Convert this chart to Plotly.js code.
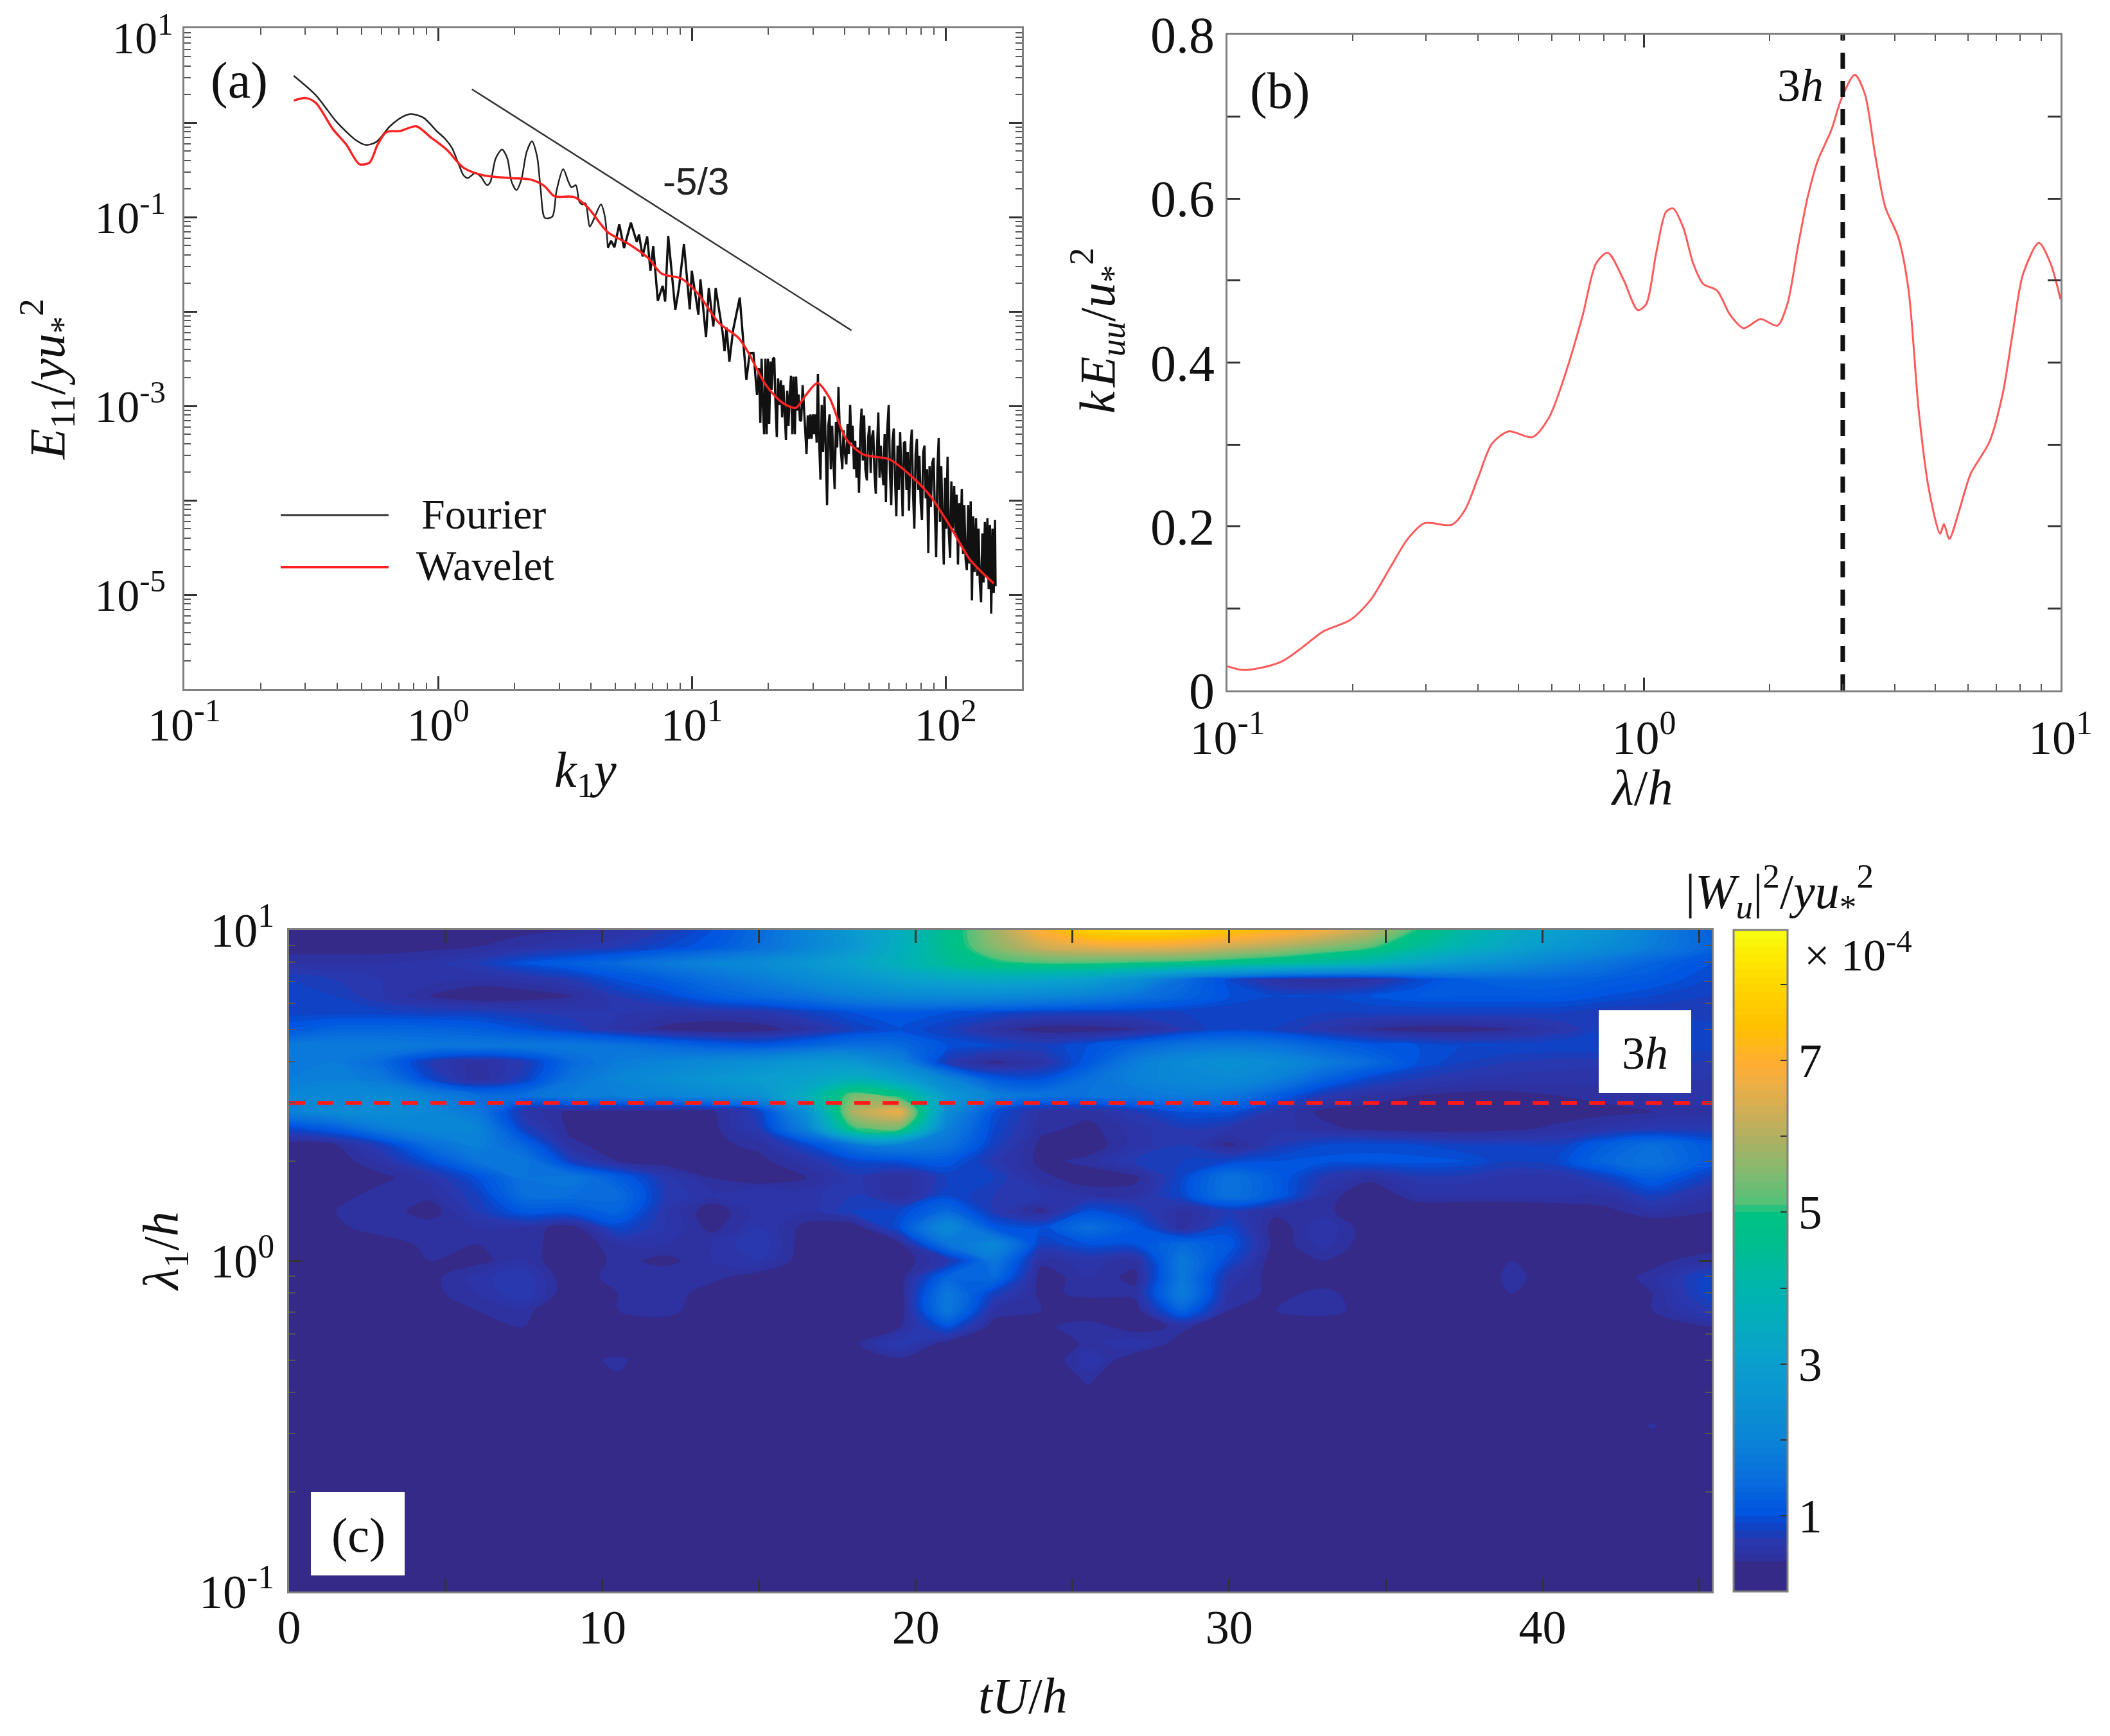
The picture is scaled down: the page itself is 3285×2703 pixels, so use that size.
<!DOCTYPE html>
<html><head><meta charset="utf-8">
<script src="https://cdn.plot.ly/plotly-3.0.1.min.js"></script>
<style>html,body{margin:0;padding:0;background:#fff}</style></head>
<body><div id="chart" style="width:3285px;height:2703px"></div>
<script>
// Panel (a): log10 k1y, log10 E11/yu*^2
const fourierSmooth = [[-.569,.497],[-.481,.289],[-.402,.015],[-.323,-.187],[-.283,-.236],[-.243,-.203],[-.19,-.039],[-.138,.065],[-.106,.092],[-.058,.054],[-.005,-.09],[.029,-.175],[.054,-.265],[.079,-.424],[.1,-.556],[.117,-.587],[.147,-.533],[.168,-.571],[.193,-.662],[.206,-.628],[.227,-.379],[.252,-.284],[.273,-.379],[.29,-.628],[.309,-.714],[.328,-.605],[.349,-.311],[.37,-.197],[.39,-.356],[.404,-.696],[.421,-1.009],[.45,-.995],[.467,-.719],[.493,-.492],[.514,-.628],[.526,-.685],[.543,-.662],[.556,-.832],[.568,-.866],[.581,-.855],[.598,-1.1],[.615,-1.014],[.642,-.866],[.657,-.991],[.669,-1.324]];
const fourierRough = [[.669,-1.324],[.682,-1.252],[.695,-1.32],[.714,-1.077],[.733,-1.327],[.76,-1.059],[.783,-1.263],[.792,-1.184],[.806,-1.417],[.824,-1.206],[.837,-1.569],[.848,-1.308],[.866,-1.887],[.885,-1.728],[.895,-1.894],[.907,-1.2],[.935,-1.984],[.95,-1.739],[.969,-1.286],[.992,-1.977],[1.0,-1.569],[1.026,-2.034],[1.034,-1.66],[1.056,-2.272],[1.067,-1.751],[1.085,-2.159],[1.094,-1.751],[1.121,-2.215],[1.129,-2.42],[1.137,-2.17],[1.148,-2.533],[1.163,-2.193],[1.189,-1.853],[1.215,-2.726],[1.228,-2.442],[1.243,-2.44],[1.257,-2.884],
[1.265,-2.60],[1.270,-3.18],[1.275,-2.50],[1.280,-2.99],[1.285,-3.30],[1.290,-2.50],[1.295,-3.30],[1.300,-2.50],[1.305,-3.19],[1.310,-2.53],[1.315,-2.83],[1.320,-2.50],[1.325,-2.49],[1.330,-2.99],[1.335,-3.33],[1.340,-2.71],[1.345,-2.99],[1.351,-2.73],[1.356,-3.12],[1.361,-2.78],[1.366,-3.03],[1.371,-3.36],[1.376,-2.84],[1.381,-3.21],[1.386,-2.88],[1.391,-2.68],[1.396,-3.30],[1.401,-2.69],[1.406,-3.30],[1.411,-2.69],[1.416,-3.05],[1.421,-2.88],[1.426,-3.15],[1.431,-3.16],[1.437,-2.78],[1.442,-2.99],[1.447,-3.26],[1.452,-3.51],[1.457,-3.10],[1.462,-3.35],[1.467,-3.09],[1.472,-3.35],[1.477,-3.09],[1.482,-3.30],[1.487,-3.09],[1.492,-3.39],[1.497,-2.66],[1.502,-3.39],[1.507,-3.78],[1.512,-2.99],[1.517,-3.49],[1.523,-2.90],[1.528,-3.55],[1.533,-4.05],[1.538,-3.21],[1.543,-3.09],[1.548,-3.67],[1.553,-3.21],[1.558,-3.58],[1.563,-3.88],[1.568,-3.17],[1.573,-3.44],[1.578,-2.80],[1.583,-3.26],[1.588,-3.49],[1.593,-3.67],[1.598,-3.26],[1.603,-3.49],[1.609,-3.62],[1.614,-3.19],[1.619,-3.51],[1.624,-2.99],[1.629,-3.39],[1.634,-3.21],[1.639,-3.67],[1.644,-3.37],[1.649,-3.76],[1.654,-3.44],[1.659,-3.92],[1.664,-3.28],[1.669,-3.03],[1.674,-3.58],[1.679,-3.10],[1.684,-3.67],[1.690,-3.79],[1.695,-3.33],[1.700,-3.21],[1.705,-3.71],[1.710,-3.33],[1.715,-3.26],[1.720,-3.71],[1.725,-3.93],[1.730,-3.44],[1.735,-3.07],[1.740,-3.76],[1.745,-3.42],[1.750,-3.67],[1.755,-3.84],[1.760,-3.30],[1.765,-4.02],[1.770,-3.26],[1.776,-2.99],[1.781,-3.71],[1.786,-4.05],[1.791,-3.37],[1.796,-3.24],[1.801,-3.78],[1.806,-4.17],[1.811,-3.42],[1.816,-3.89],[1.821,-3.28],[1.826,-3.67],[1.831,-4.17],[1.836,-3.39],[1.841,-3.38],[1.846,-3.89],[1.851,-3.49],[1.856,-4.11],[1.862,-3.44],[1.867,-3.25],[1.872,-3.94],[1.877,-4.30],[1.882,-3.51],[1.887,-3.35],[1.892,-3.89],[1.897,-3.53],[1.902,-4.03],[1.907,-4.21],[1.912,-3.49],[1.917,-3.42],[1.922,-3.98],[1.927,-3.67],[1.932,-4.56],[1.937,-3.64],[1.942,-4.07],[1.948,-3.60],[1.953,-3.55],[1.958,-4.12],[1.963,-4.60],[1.968,-3.67],[1.973,-3.34],[1.978,-4.23],[1.983,-3.64],[1.988,-4.19],[1.993,-4.68],[1.998,-3.76],[2.003,-4.30],[2.008,-3.54],[2.013,-4.35],[2.018,-4.61],[2.023,-3.80],[2.028,-4.30],[2.034,-3.85],[2.039,-4.35],[2.044,-3.94],[2.049,-4.68],[2.054,-4.03],[2.059,-4.46],[2.064,-3.88],[2.069,-4.57],[2.074,-4.05],[2.079,-4.62],[2.084,-4.74],[2.089,-4.05],[2.094,-4.67],[2.099,-4.01],[2.104,-5.06],[2.109,-4.17],[2.114,-4.76],[2.120,-4.19],[2.125,-4.80],[2.130,-4.30],[2.135,-4.87],[2.140,-5.08],[2.145,-4.35],[2.150,-4.87],[2.155,-4.23],[2.160,-4.80],[2.165,-4.19],[2.170,-4.94],[2.175,-4.26],[2.180,-5.20],[2.185,-4.30],[2.190,-4.98],[2.195,-4.21],[2.197,-4.91]];
const wavelet = [[-.569,.234],[-.521,.261],[-.481,.207],[-.415,-.067],[-.362,-.231],[-.31,-.439],[-.27,-.422],[-.238,-.231],[-.204,-.1],[-.151,-.089],[-.085,-.039],[-.032,-.149],[.034,-.286],[.1,-.477],[.18,-.559],[.286,-.586],[.365,-.603],[.418,-.669],[.458,-.778],[.537,-.789],[.59,-.898],[.669,-1.161],[.749,-1.281],[.828,-1.434],[.881,-1.598],[.96,-1.653],[1.026,-1.817],[1.106,-2.118],[1.185,-2.282],[1.225,-2.446],[1.291,-2.775],[1.357,-2.966],[1.41,-3.02],[1.45,-2.884],[1.495,-2.758],[1.542,-2.911],[1.608,-3.349],[1.675,-3.513],[1.78,-3.568],[1.86,-3.732],[1.939,-3.951],[2.019,-4.279],[2.098,-4.634],[2.19,-4.88]];
const slopeK = [1.36, 42.6];
const slopeE = [2.26, 0.0063];

// Panel (b): log10 lambda/h, kEuu/u*^2
const spectrumB = [[-1,.0295],[-.964,.025],[-.916,.028],[-.867,.036],[-.819,.053],[-.77,.072],[-.705,.086],[-.657,.11],[-.608,.151],[-.567,.185],[-.527,.204],[-.462,.202],[-.43,.22],[-.398,.26],[-.365,.301],[-.325,.316],[-.268,.309],[-.228,.333],[-.187,.389],[-.147,.458],[-.115,.521],[-.087,.534],[-.05,.502],[-.015,.464],[.005,.471],[.029,.533],[.053,.584],[.07,.588],[.094,.565],[.118,.521],[.142,.496],[.175,.488],[.207,.458],[.239,.442],[.28,.453],[.32,.445],[.344,.471],[.369,.54],[.393,.602],[.417,.646],[.45,.684],[.474,.722],[.506,.751],[.53,.728],[.555,.653],[.579,.59],[.611,.552],[.635,.489],[.66,.339],[.684,.245],[.711,.191],[.72,.203],[.733,.185],[.757,.22],[.784,.264],[.83,.304],[.862,.364],[.886,.439],[.91,.508],[.948,.546],[.976,.521],[1,.477]];

// Panel (c): scalogram, values in units of 1e-4
const timeC = [0,1.5,3,4.5,6,7.5,9,10.5,12,13.5,15,16.5,18,19.5,21,22.5,24,25.5,27,28.5,30,31.5,33,34.5,36,37.5,39,40.5,42,43.5,45.4];
const lambdaC = [10,8.91,7.94,7.08,6.31,5.62,5.01,4.47,3.98,3.55,3.16,2.82,2.51,2.24,2.0,1.78,1.58,1.41,1.26,1.12,1,.891,.794,.708,.631,.562,.501,.447,.398,.316,.263,.1];
const zRows = [
[.3,.3,.3,.3,.3,.35,.4,.5,.7,1.0,1.4,2.0,2.8,3.6,4.6,5.8,7.0,7.9,8.1,8.0,7.6,7.2,6.8,6.2,5.0,4.2,3.5,3.0,2.6,1.9,1.2],
[.32,.32,.32,.35,.4,.5,.6,.7,.9,1.1,1.5,2.0,2.7,3.6,4.6,5.6,6.3,6.6,6.7,6.6,6.3,6.0,5.6,5.2,4.4,3.8,3.2,2.7,2.3,1.8,1.3],
[.5,.5,.5,.55,.7,1.0,1.2,1.4,1.7,2.0,2.2,2.6,3.1,3.7,4.4,4.9,5.1,5.1,5.0,4.9,4.7,4.5,4.2,3.8,3.2,2.7,2.3,1.9,1.6,1.3,1.0],
[.8,.7,.6,.55,.5,.55,.7,1.0,1.2,1.5,1.8,2.2,2.6,3.0,3.3,3.4,3.3,3.0,2.4,1.5,.9,.5,.4,.5,.9,1.2,1.3,1.3,1.2,1.1,.9],
[.9,.8,.6,.4,.25,.3,.4,.7,.9,1.2,1.4,1.6,1.9,2.1,2.2,2.2,2.1,1.9,1.6,1.3,1.0,.9,.9,1.0,1.1,1.1,1.1,1.1,1.0,.9,.8],
[.85,.85,.85,.8,.8,.7,.65,.6,.55,.55,.6,.8,1.0,1.1,1.0,.9,.8,.8,.8,.8,.8,.8,.8,.8,.8,.8,.8,.8,.7,.7,.7],
[1.1,1.3,1.3,1.3,1.2,1.0,.8,.55,.35,.25,.3,.5,.8,1.0,.8,.5,.3,.3,.4,.7,.9,.8,.6,.4,.3,.3,.4,.6,.8,.9,.9],
[1.7,1.8,1.8,1.7,1.7,1.7,1.7,1.6,1.4,1.2,1.1,1.3,1.5,1.4,1.0,.9,.8,1.0,1.3,1.6,1.7,1.6,1.3,1.1,1.0,.9,.9,.9,.9,.85,.85],
[1.7,1.8,1.4,.7,.45,.7,1.4,1.8,2.0,2.2,2.4,2.7,2.7,2.0,.7,.35,.55,1.1,1.8,2.2,2.4,2.2,1.8,1.4,1.0,.8,.7,.65,.65,.7,.7],
[1.8,1.9,1.7,.9,.4,.8,1.6,2.0,2.3,2.6,2.9,3.1,3.6,3.0,2.0,1.1,1.0,1.5,1.9,2.1,2.2,1.9,1.3,.9,.7,.6,.55,.55,.55,.6,.6],
[2.0,2.2,2.2,1.9,1.5,1.5,1.8,1.9,2.0,2.2,2.5,3.6,5.4,4.8,2.7,1.9,1.6,1.6,1.7,1.8,1.7,1.2,.7,.5,.4,.35,.35,.4,.45,.5,.55],
[1.9,2.2,2.3,2.1,1.7,.6,.35,.3,.3,.35,.8,2.4,6.0,6.7,2.3,1.0,.5,.45,.7,1.0,1.0,.6,.35,.3,.3,.3,.3,.3,.35,.4,.5],
[.9,1.2,1.8,2.1,2.0,.8,.35,.3,.3,.35,.7,1.9,5.0,5.3,1.9,.9,.45,.35,.55,.7,.6,.55,.45,.35,.3,.3,.35,.45,.55,.65,.65],
[.3,.4,.8,1.5,1.9,1.3,.45,.3,.3,.35,.45,.9,1.6,1.9,1.6,.8,.35,.3,.55,.7,.35,.7,.9,.95,.9,.8,.8,.8,1.2,1.5,1.1],
[.2,.3,.55,1.0,1.6,1.7,.8,.4,.3,.3,.35,.55,.9,1.0,1.1,.65,.35,.45,.7,.8,.9,1.0,1.05,1.05,1.05,1.0,.8,.9,1.35,1.6,1.1],
[.2,.25,.35,.55,1.0,1.6,1.7,1.2,.65,.4,.3,.4,.65,.4,.8,.8,.45,.3,.35,.9,1.6,1.15,.65,.45,.65,.65,.55,.55,.8,1.2,.75],
[.2,.3,.5,.45,.8,1.5,1.5,1.45,.7,.5,.6,.55,.7,.4,.9,.7,.6,.5,.5,.9,1.6,1.15,.5,.25,.5,.5,.5,.5,.5,.8,.5],
[.2,.4,.5,.3,.7,1.1,1.1,1.3,.6,.3,.55,.5,.8,.9,1.4,.7,.35,1.0,.8,.45,.7,.45,.45,.25,.25,.25,.25,.3,.35,.5,.4],
[.2,.35,.5,.5,.5,.5,.3,.9,.6,.35,.6,.35,.25,1.0,2.2,1.1,1.0,1.5,1.1,.45,.9,.3,.6,.3,.25,.25,.25,.25,.3,.25,.3],
[.2,.25,.3,.45,.4,.5,.25,.5,.5,.5,.7,.3,.22,.35,1.6,2.1,.8,1.0,1.0,1.4,1.1,.3,.55,.3,.25,.25,.25,.25,.25,.25,.3],
[.2,.2,.2,.4,.35,.5,.25,.45,.35,.5,.6,.3,.22,.3,.6,1.7,.45,.55,.45,1.7,.9,.25,.4,.25,.25,.25,.4,.35,.3,.35,.5],
[.2,.2,.2,.35,.55,.7,.25,.5,.5,.45,.3,.22,.22,.3,1.3,1.4,.3,.5,.35,1.7,.6,.3,.3,.22,.22,.22,.45,.3,.3,.45,.9],
[.2,.2,.2,.35,.5,.7,.25,.4,.5,.3,.22,.22,.22,.3,1.7,.8,.35,.45,.45,1.8,.5,.35,.45,.3,.22,.22,.4,.25,.25,.4,.9],
[.2,.2,.2,.2,.4,.45,.22,.4,.5,.22,.22,.22,.22,.28,1.7,.5,.4,.22,.3,1.3,.4,.4,.45,.35,.22,.22,.35,.22,.22,.4,.7],
[.2,.2,.2,.2,.2,.4,.35,.22,.22,.22,.22,.22,.35,.4,1.0,.3,.35,.5,.3,.45,.22,.22,.3,.4,.22,.22,.22,.22,.22,.35,.4],
[.2,.2,.2,.2,.2,.35,.4,.22,.22,.2,.3,.2,.35,.7,.3,.2,.2,.45,.6,.3,.2,.2,.2,.2,.2,.2,.2,.2,.2,.3,.2],
[.2,.2,.2,.2,.2,.4,.3,.45,.2,.2,.2,.3,.4,.35,.35,.2,.2,.6,.25,.2,.2,.2,.2,.2,.35,.2,.2,.2,.2,.2,.3],
[.2,.2,.2,.2,.2,.32,.2,.38,.2,.2,.2,.38,.35,.2,.3,.2,.2,.45,.2,.2,.2,.2,.2,.2,.35,.2,.2,.2,.2,.2,.3],
[.2,.2,.2,.2,.2,.2,.2,.2,.2,.2,.2,.3,.2,.2,.2,.2,.2,.35,.2,.2,.2,.2,.2,.2,.3,.2,.2,.2,.2,.2,.2],
[.2,.2,.2,.2,.2,.2,.2,.2,.2,.2,.2,.2,.2,.2,.2,.2,.2,.2,.3,.38,.2,.2,.2,.2,.2,.2,.2,.2,.2,.42,.2],
[.2,.2,.2,.2,.2,.2,.2,.2,.2,.2,.2,.2,.2,.2,.2,.2,.2,.2,.2,.2,.2,.2,.2,.2,.2,.2,.2,.2,.2,.2,.2],
[.2,.2,.2,.2,.2,.2,.2,.2,.2,.2,.2,.2,.2,.2,.2,.2,.2,.2,.2,.2,.2,.2,.2,.2,.2,.2,.2,.2,.2,.2,.2]
];
const zMax = 8.72;
const colorLevels = [0,.3,.4,.6,.85,1,1.5,2,3,3.5,4,4.5,5,5.15,5.5,6,6.5,7,7.5,8,8.4,8.72];
const colorValues = ['#352a87','#352a87','#2e31a0','#2a38ae','#0a44c8','#0055e0','#0a70dc','#0a85d6','#0a9fce','#05abc0','#00b5ae','#00bd92','#00c281','#55c07a','#7dbc70','#afb063','#dcae50','#ffae33','#ffc000','#ffd400','#fee800','#f8fb0e'];
const barTicks = [1,2,3,4,5,6,7,8];
const barLabels = ['1','','3','','5','','7',''];

const W=3285, H=2703;
const SERIF='Liberation Serif';
const fx=p=>p/W, fy=p=>1-p/H;
const pow10=v=>Math.pow(10,v);
const decadeMinors=(lo,hi)=>{const o=[];for(let d=lo;d<hi;d++)for(let m=2;m<=9;m++)o.push(m*Math.pow(10,d));return o;};
const axisStyle=(size,standoff)=>({showline:true,linecolor:'#808080',linewidth:3,mirror:'allticks',ticks:'inside',tickcolor:'#333',tickwidth:3,ticklen:20,showgrid:false,zeroline:false,
  tickfont:{family:SERIF,size,color:'#111'},ticklabelstandoff:standoff,ticklabeloverflow:'allow'});
const minorStyle=(lo,hi)=>({tickmode:'array',tickvals:decadeMinors(lo,hi),ticks:'inside',ticklen:10,tickwidth:2,tickcolor:'#555',showgrid:false});

const px=a=>a.map(p=>pow10(p[0])), py=a=>a.map(p=>pow10(p[1]));
const traces=[
 {type:'scatter',mode:'lines',x:px(fourierSmooth),y:py(fourierSmooth),name:'Fourier',line:{color:'#222',width:2.5,shape:'spline',smoothing:.8},xaxis:'x',yaxis:'y',showlegend:false},
 {type:'scatter',mode:'lines',x:px(fourierRough),y:py(fourierRough),name:'Fourier detail',line:{color:'#111',width:3.5},xaxis:'x',yaxis:'y',showlegend:false},
 {type:'scatter',mode:'lines',x:px(wavelet),y:py(wavelet),name:'Wavelet',line:{color:'#ff2020',width:3.5,shape:'spline',smoothing:.8},xaxis:'x',yaxis:'y',showlegend:false},
 {type:'scatter',mode:'lines',x:slopeK,y:slopeE,line:{color:'#333',width:2.5},xaxis:'x',yaxis:'y',showlegend:false},
 {type:'scatter',mode:'lines',x:px(spectrumB),y:spectrumB.map(p=>p[1]),line:{color:'#ff5a5a',width:3,shape:'spline',smoothing:.8},xaxis:'x2',yaxis:'y2',showlegend:false},
 {type:'scatter',mode:'lines',x:[3,3],y:[0,.8],line:{color:'#111',width:7,dash:'25px,19px'},xaxis:'x2',yaxis:'y2',showlegend:false},
 {type:'contour',x:timeC,y:lambdaC.slice().reverse(),z:zRows.slice().reverse(),xaxis:'x3',yaxis:'y3',zauto:false,zmin:0,zmax:zMax,
  colorscale:colorLevels.map((v,i)=>[v/zMax,colorValues[i]]),autocontour:false,
  contours:{start:.1,end:8.62,size:.1,coloring:'fill',showlines:false},line:{width:0},hoverinfo:'skip',
  colorbar:{x:fx(2699),xanchor:'left',y:fy(2478),yanchor:'bottom',lenmode:'pixels',len:1030,thicknessmode:'pixels',thickness:84,xpad:0,ypad:0,
   tickmode:'array',tickvals:barTicks,ticktext:barLabels,ticks:'inside',ticklen:12,tickwidth:2,tickcolor:'#333',outlinecolor:'#808080',outlinewidth:3,
   tickfont:{family:SERIF,size:74,color:'#111'},ticklabelstandoff:8}},
 {type:'scatter',mode:'lines',x:[0,45.4],y:[3,3],line:{color:'#ff1a1a',width:6,dash:'25px,19px'},xaxis:'x3',yaxis:'y3',showlegend:false}
];
const ann=(x,y,text,size,extra)=>Object.assign({xref:'paper',yref:'paper',x:fx(x),y:fy(y),text,showarrow:false,xanchor:'center',yanchor:'middle',font:{family:SERIF,size,color:'#111'}},extra||{});
const layout={width:W,height:H,margin:{l:0,r:0,t:0,b:0},paper_bgcolor:'#fff',plot_bgcolor:'#fff',font:{family:SERIF},showlegend:false,
 xaxis:Object.assign(axisStyle(72,-9),{domain:[fx(287),fx(1591)],type:'log',range:[-1,2.301],tickmode:'array',tickvals:[.1,1,10,100],ticktext:['10<sup>-1</sup>','10<sup>0</sup>','10<sup>1</sup>','10<sup>2</sup>'],minor:minorStyle(-1,3)}),
 yaxis:Object.assign(axisStyle(70,12),{domain:[fy(1073),fy(44)],type:'log',range:[-6,1],tickmode:'array',tickvals:[1e-6,1e-5,1e-4,1e-3,1e-2,1e-1,1,10],ticktext:['','10<sup>-5</sup>','','10<sup>-3</sup>','','10<sup>-1</sup>','',''],minor:minorStyle(-6,1)}),
 xaxis2:Object.assign(axisStyle(74,7),{domain:[fx(1911),fx(3208)],anchor:'y2',type:'log',range:[-1,1],tickmode:'array',tickvals:[.1,1,10],ticktext:['10<sup>-1</sup>','10<sup>0</sup>','10<sup>1</sup>'],minor:minorStyle(-1,1)}),
 yaxis2:Object.assign(axisStyle(80,1),{domain:[fy(1075),fy(54)],anchor:'x2',range:[0,.8],tickmode:'array',tickvals:[0,.1,.2,.3,.4,.5,.6,.7,.8],ticktext:['0','','0.2','','0.4','','0.6','','0.8']}),
 xaxis3:Object.assign(axisStyle(74,-11),{domain:[fx(450),fx(2665)],anchor:'y3',range:[0,45.4],tickmode:'array',tickvals:[0,5,10,15,20,25,30,35,40,45],ticktext:['0','','10','','20','','30','','40','']}),
 yaxis3:Object.assign(axisStyle(74,5),{domain:[fy(2478),fy(1448)],anchor:'x3',type:'log',range:[-1,1],tickmode:'array',tickvals:[.1,1,10],ticktext:['10<sup>-1</sup>','10<sup>0</sup>','10<sup>1</sup>'],minor:minorStyle(-1,1)}),
 shapes:[
  {type:'rect',xref:'paper',yref:'paper',x0:fx(2489),x1:fx(2633),y0:fy(1573),y1:fy(1702),fillcolor:'#fff',line:{width:0}},
  {type:'rect',xref:'paper',yref:'paper',x0:fx(484),x1:fx(630),y0:fy(2323),y1:fy(2453),fillcolor:'#fff',line:{width:0}},
  {type:'line',xref:'paper',yref:'paper',x0:fx(437),x1:fx(605),y0:fy(802),y1:fy(802),line:{color:'#333',width:3}},
  {type:'line',xref:'paper',yref:'paper',x0:fx(437),x1:fx(605),y0:fy(883),y1:fy(883),line:{color:'#ff2020',width:4}}
 ],
 annotations:[
  ann(272,54,'10<sup>1</sup>',70,{xanchor:'right'}),
  ann(911,1204,'<i>k</i><sub>1</sub><i>y</i>',78),
  ann(73,591,'<i>E</i><sub>11</sub>/<i>yu</i><sub>*</sub><sup>2</sup>',78,{textangle:-90}),
  ann(2556,1226,'<i>λ</i>/<i>h</i>',78),
  ann(1708,514,'<i>k\u200aE<sub>uu</sub></i>/<i>u</i><sub>*</sub><sup>2</sup>',78,{textangle:-90}),
  ann(1592,2640,'<i>tU</i>/<i>h</i>',78),
  ann(256,1948,'<i>λ</i><sub>1</sub>/<i>h</i>',78,{textangle:-90}),
  ann(372,125,'(a)',80),
  ann(1992,141,'(b)',80),
  ann(558,2390,'(c)',76),
  ann(2803,133,'3<i>h</i>',72),
  ann(2561,1640,'3<i>h</i>',72),
  ann(1083,283,'-5/3',60,{font:{family:'Liberation Sans',size:60,color:'#222'}}),
  ann(654,800,'Fourier',66,{xanchor:'left'}),
  ann(646,880,'Wavelet',66,{xanchor:'left'}),
  ann(2770,1388,'|<i>W<sub>u</sub></i>|<sup>2</sup>/<i>yu</i><sub>*</sub><sup>2</sup>',76),
  ann(2893,1482,'× 10<sup>-4</sup>',70)
 ]
};
Plotly.newPlot('chart',traces,layout,{staticPlot:true,displayModeBar:false});
</script></body></html>
